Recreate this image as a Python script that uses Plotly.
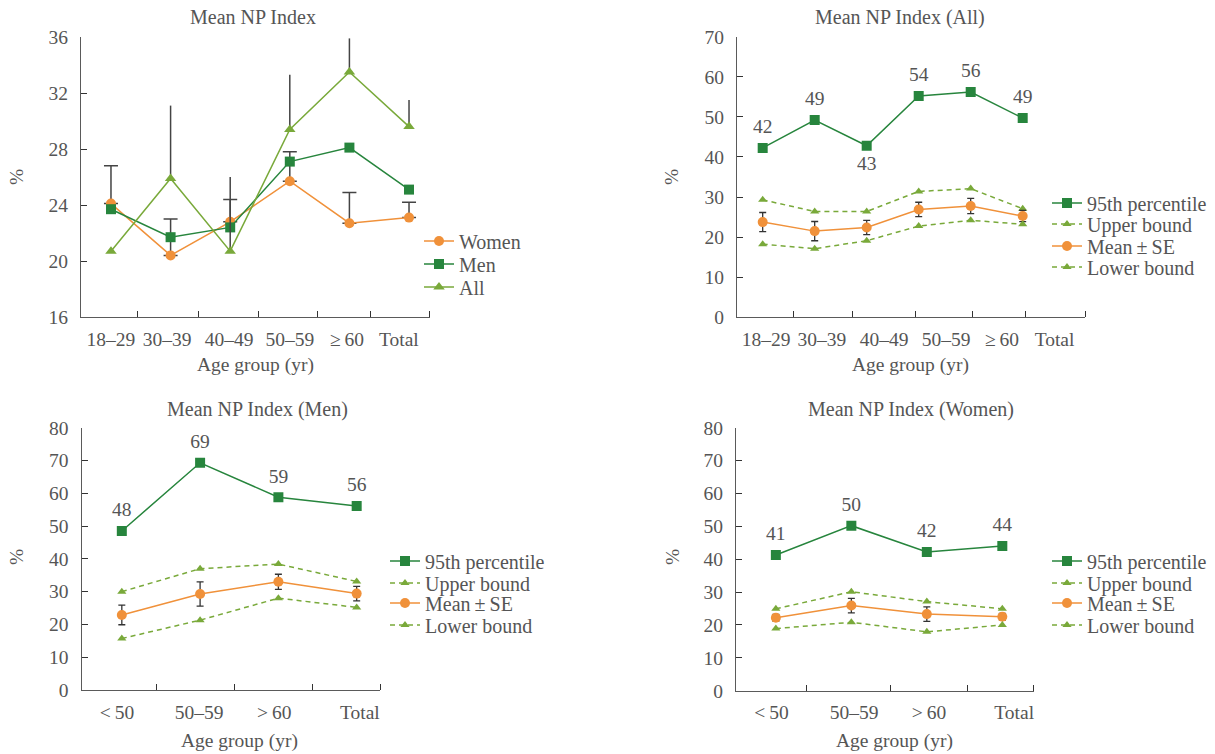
import plotly.graph_objects as go

FONT = "Liberation Serif"
TXT = "#555555"
AXC = "#5a5a5a"
ORANGE = "#F0913A"
DKGREEN = "#27853D"
LTGREEN = "#79A93A"
ERR = "#333333"

# ---------------- data ----------------
# Panel A: Mean NP Index
ages_a = ["18–29", "30–39", "40–49", "50–59", "≥\u200960", "Total"]
women_a = [24.1, 20.4, 22.8, 25.7, 22.7, 23.1]
women_a_err = [2.7, 2.6, 1.6, 2.1, 2.2, 1.1]
men_a = [23.7, 21.7, 22.4, 27.1, 28.1, 25.1]
all_a = [20.7, 25.9, 20.7, 29.4, 33.5, 29.6]
all_a_err = [0, 5.2, 5.3, 3.9, 2.4, 1.9]

# Panel B: Mean NP Index (All)
ages_b = ["18–29", "30–39", "40–49", "50–59", "≥\u200960", "Total"]
p95_b = [42.25, 49.2, 42.8, 55.2, 56.2, 49.7]
p95_b_lbl = ["42", "49", "43", "54", "56", "49"]
upper_b = [29.3, 26.4, 26.4, 31.4, 32.1, 27.1]
mean_b = [23.75, 21.5, 22.4, 26.9, 27.75, 25.25]
se_b = [2.4, 2.4, 1.8, 1.8, 1.9, 1.4]
lower_b = [18.25, 17.1, 19.1, 22.75, 24.2, 23.2]

# Panel C: Mean NP Index (Men)
ages_c = ["<\u200950", "50–59", ">\u200960", "Total"]
p95_c = [48.5, 69.3, 58.8, 56.1]
p95_c_lbl = ["48", "69", "59", "56"]
upper_c = [30.0, 37.0, 38.4, 33.1]
mean_c = [22.9, 29.3, 33.0, 29.4]
se_c = [3.0, 3.7, 2.3, 2.2]
lower_c = [15.7, 21.3, 28.0, 25.2]

# Panel D: Mean NP Index (Women)
ages_d = ["<\u200950", "50–59", ">\u200960", "Total"]
p95_d = [41.3, 50.2, 42.2, 44.0]
p95_d_lbl = ["41", "50", "42", "44"]
upper_d = [24.9, 30.1, 27.1, 24.9]
mean_d = [22.2, 25.9, 23.3, 22.5]
se_d = [1.0, 2.2, 2.2, 1.0]
lower_d = [18.9, 20.8, 17.9, 20.0]

# ---------------- layout helpers ----------------
W, H = 1215, 754
OFF = 0  # page body margin (removed via post_script)


def px_x(p):
    return (p - OFF) / W


def px_y(p):
    return 1 - (p - OFF) / H


def xax(dom, rng, labpos, labels, tickpos, anchor):
    return dict(
        domain=[px_x(dom[0]), px_x(dom[1])], range=rng, anchor=anchor,
        tickmode="array", tickvals=labpos, ticktext=labels, ticks="",
        showline=True, linecolor=AXC, linewidth=1.3, showgrid=False, zeroline=False,
        tickfont=dict(family=FONT, size=19.5, color=TXT), ticklabelstandoff=4,
        minor=dict(tickmode="array", tickvals=tickpos, ticks="inside", ticklen=6,
                   tickcolor="#333333", tickwidth=1.3, showgrid=False),
        fixedrange=True,
    )


def yax(dom, rng, dtick, anchor):
    return dict(
        domain=[px_y(dom[1]), px_y(dom[0])], range=rng, anchor=anchor,
        tickmode="linear", tick0=rng[0], dtick=dtick, ticks="inside", ticklen=6,
        tickcolor="#333333", tickwidth=1.3,
        showline=True, linecolor=AXC, linewidth=1.3, showgrid=False, zeroline=False,
        tickfont=dict(family=FONT, size=19.5, color=TXT), ticklabelstandoff=8,
        fixedrange=True,
    )


legends = {}
_leg_count = [0]


def new_legend(xpage, ypage):
    _leg_count[0] += 1
    key = "legend" if _leg_count[0] == 1 else "legend%d" % _leg_count[0]
    legends[key] = dict(x=px_x(xpage), y=px_y(ypage), xanchor="left", yanchor="middle",
                        font=dict(family=FONT, size=20, color=TXT),
                        bgcolor="rgba(0,0,0,0)", borderwidth=0, itemwidth=30)
    return key


fig = go.Figure()

# ---------------- Panel A ----------------
xa = list(range(len(ages_a)))
fig.add_trace(go.Scatter(
    x=xa, y=women_a, name="Women", mode="lines+markers", xaxis="x", yaxis="y",
    line=dict(color=ORANGE, width=1.5), marker=dict(symbol="circle", size=10, color=ORANGE),
    error_y=dict(type="data", array=women_a_err, arrayminus=[0] * len(xa), symmetric=False,
                 color="#444444", thickness=1.5, width=7),
    legend=new_legend(419, 241)))
fig.add_trace(go.Scatter(
    x=xa, y=men_a, name="Men", mode="lines+markers", xaxis="x", yaxis="y",
    line=dict(color=DKGREEN, width=1.5), marker=dict(symbol="square", size=10, color=DKGREEN),
    legend=new_legend(419, 264)))
fig.add_trace(go.Scatter(
    x=xa, y=all_a, name="All", mode="lines+markers", xaxis="x", yaxis="y",
    line=dict(color=LTGREEN, width=1.5), marker=dict(symbol="triangle-up", size=10, color=LTGREEN),
    error_y=dict(type="data", array=all_a_err, arrayminus=[0] * len(xa), symmetric=False,
                 color="#444444", thickness=1.5, width=0),
    legend=new_legend(419, 287)))


def band_panel(xs, p95, lbls, lblpos, upper, mean, se, lower, xr, yr, legx, legys):
    fig.add_trace(go.Scatter(
        x=xs, y=p95, name="95th percentile", mode="lines+markers", xaxis=xr, yaxis=yr,
        line=dict(color=DKGREEN, width=1.5), marker=dict(symbol="square", size=10, color=DKGREEN),
        legend=new_legend(legx, legys[0])))
    fig.add_trace(go.Scatter(
        x=xs, y=upper, name="Upper bound", mode="lines+markers", xaxis=xr, yaxis=yr,
        line=dict(color=LTGREEN, width=1.5, dash="5px,4px"),
        marker=dict(symbol="triangle-up", size=8, color=LTGREEN),
        legend=new_legend(legx, legys[1])))
    fig.add_trace(go.Scatter(
        x=xs, y=mean, name="Mean\u2009±\u2009SE", mode="lines+markers", xaxis=xr, yaxis=yr,
        line=dict(color=ORANGE, width=1.5), marker=dict(symbol="circle", size=10, color=ORANGE),
        error_y=dict(type="data", array=se, color=ERR, thickness=1.3, width=3.5),
        legend=new_legend(legx, legys[2])))
    fig.add_trace(go.Scatter(
        x=xs, y=lower, name="Lower bound", mode="lines+markers", xaxis=xr, yaxis=yr,
        line=dict(color=LTGREEN, width=1.5, dash="5px,4px"),
        marker=dict(symbol="triangle-up", size=8, color=LTGREEN),
        legend=new_legend(legx, legys[3])))
    fig.add_trace(go.Scatter(
        x=xs, y=p95, text=lbls, mode="markers+text", textposition=lblpos, xaxis=xr, yaxis=yr,
        marker=dict(size=14, color="rgba(0,0,0,0)"),
        textfont=dict(family=FONT, size=19.5, color=TXT), showlegend=False, hoverinfo="skip"))


band_panel(list(range(len(ages_b))), p95_b, p95_b_lbl,
           ["top center", "top center", "bottom center", "top center", "top center", "top center"],
           upper_b, mean_b, se_b, lower_b, "x2", "y2", 1047, [203, 224, 246, 267])
band_panel(list(range(len(ages_c))), p95_c, p95_c_lbl, ["top center"] * 4,
           upper_c, mean_c, se_c, lower_c, "x3", "y3", 385, [561, 583, 603, 625])
band_panel(list(range(len(ages_d))), p95_d, p95_d_lbl, ["top center"] * 4,
           upper_d, mean_d, se_d, lower_d, "x4", "y4", 1047, [561, 583, 603, 625])


def ann(text, xp, yp, size=20, angle=0):
    return dict(text=text, x=px_x(xp), y=px_y(yp), xref="paper", yref="paper",
                showarrow=False, xanchor="center", yanchor="middle", textangle=angle,
                font=dict(family=FONT, size=size, color=TXT))


fig.update_layout(
    width=W, height=H, margin=dict(l=0, r=0, t=0, b=0, autoexpand=False),
    paper_bgcolor="white", plot_bgcolor="white", showlegend=True,
    font=dict(family=FONT, color=TXT),
    xaxis=xax((81, 430), [-0.503, 5.352], [0, 0.94, 1.98, 3.0, 3.96, 4.83], ages_a,
              [0.45, 1.46, 2.48, 3.46, 4.36, 5.35], "y"),
    yaxis=yax((37, 317), [16, 36], 4, "x"),
    xaxis2=xax((737, 1085), [-0.494, 6.198], [0.067, 1.137, 2.335, 3.525, 4.602, 5.612], ages_b,
               [0.598, 1.735, 2.929, 4.035, 5.063, 6.198], "y2"),
    yaxis2=yax((36.7, 317.3), [0, 70], 10, "x2"),
    xaxis3=xax((81.5, 380.4), [-0.515, 3.303], [-0.061, 0.988, 1.948, 3.041], ages_c,
               [0.438, 1.438, 2.438, 3.303], "y3"),
    yaxis3=yax((427.7, 690), [0, 80], 10, "x3"),
    xaxis4=xax((736, 1033.5), [-0.528, 3.413], [-0.057, 1.038, 2.028, 3.157], ages_d,
               [0.41, 1.513, 2.535, 3.413], "y4"),
    yaxis4=yax((427.7, 690.7), [0, 80], 10, "x4"),
    annotations=[
        ann("Mean NP Index", 253, 17),
        ann("Mean NP Index (All)", 900, 17),
        ann("Mean NP Index (Men)", 257, 410),
        ann("Mean NP Index (Women)", 911, 410),
        ann("Age group (yr)", 255, 365, 19.5),
        ann("Age group (yr)", 910, 365, 19.5),
        ann("Age group (yr)", 239, 741, 19.5),
        ann("Age group (yr)", 894, 741, 19.5),
        ann("%", 17, 177, 19.5, -90),
        ann("%", 672, 177, 19.5, -90),
        ann("%", 16, 557, 19.5, -90),
        ann("%", 672, 557, 19.5, -90),
    ],
)
fig.update_layout(**legends)

fig.write_html("out.html", config={"displayModeBar": False},
               post_script="document.body.style.margin='0';")
